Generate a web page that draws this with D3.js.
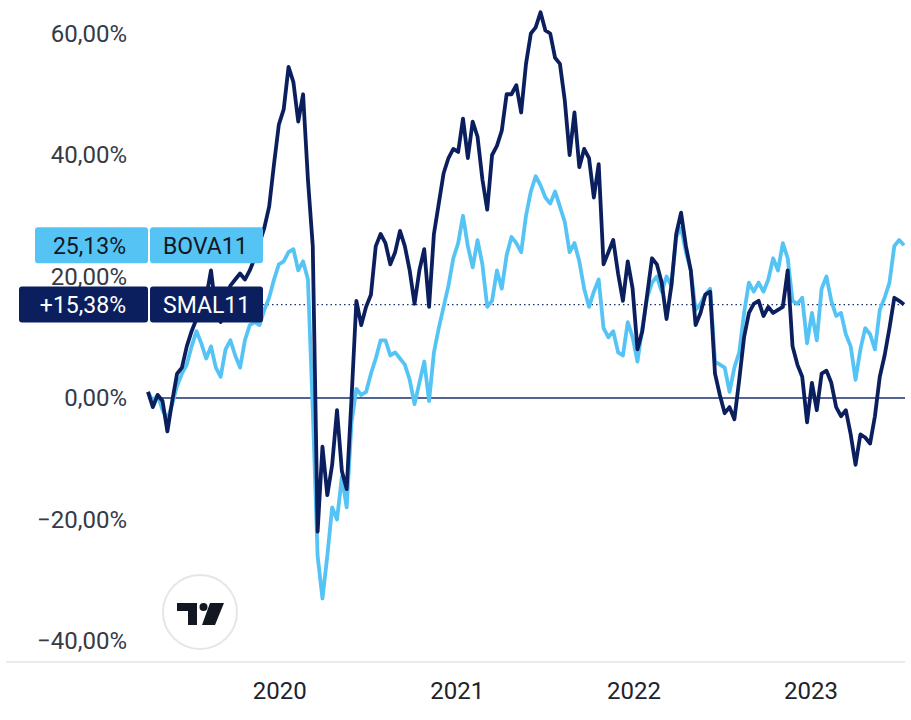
<!DOCTYPE html>
<html>
<head>
<meta charset="utf-8">
<script src="https://cdn.jsdelivr.net/npm/d3@7"></script>
<style>
  html, body { margin: 0; padding: 0; background: #ffffff; }
  svg { display: block; }
  text { font-family: Roboto, "Liberation Sans", Arial, sans-serif; }
</style>
</head>
<body>
<svg id="chart" width="911" height="720"></svg>
<script>
// ---- data ----
const startDate = "2019-04-05";   // first observation
const stepDays = 10;              // spacing between observations
const yTicks = [60, 40, 20, 0, -20, -40];
const yearTicks = ["2020-01-01", "2021-01-01", "2022-01-01", "2023-01-01"];
const yearLabels = ["2020", "2021", "2022", "2023"];
const seriesNames = ["BOVA11", "SMAL11"];
const lastValueLabels = ["25,13%", "+15,38%"];

// SMAL11 cumulative return (%)
const smal = [
  1.0, -1.5, 0.5, -0.5, -5.5, -0.5, 4.0, 5.0, 8.5, 11.0,
  13.0, 15.0, 16.5, 21.0, 14.5, 12.5, 16.0, 18.5, 19.5, 20.5,
  19.5, 21.0, 23.0, 25.5, 28.0, 31.5, 38.5, 45.0, 47.5, 54.5,
  52.0, 45.5, 50.0, 36.0, 25.0, -22.0, -8.0, -16.0, -11.0, -2.0,
  -12.0, -15.0, 0.0, 16.0, 12.0, 15.0, 17.0, 25.0, 27.0, 25.5,
  22.0, 24.0, 27.5, 25.0, 21.0, 15.5, 21.0, 24.5, 15.0, 27.0,
  32.0, 37.0, 39.5, 41.0, 40.5, 46.0, 39.5, 45.5, 43.0, 36.0,
  31.0, 40.0, 41.5, 44.0, 50.0, 50.0, 51.5, 47.0, 55.0, 60.0,
  61.0, 63.5, 60.5, 60.0, 56.0, 55.0, 49.0, 40.0, 47.0, 38.0,
  41.0, 39.5, 33.0, 38.5, 22.0, 24.0, 26.0, 20.5, 16.0, 22.5,
  18.0, 8.0, 11.0, 17.0, 23.0, 22.0, 19.0, 13.0, 18.5, 27.0,
  30.5, 25.0, 21.0, 12.0, 14.0, 17.0, 17.5, 4.0, 0.5, -2.5,
  -1.5, -3.5, 3.0, 10.0, 14.0, 15.5, 16.0, 13.5, 15.0, 14.0,
  14.5, 15.0, 21.0, 8.5, 5.5, 3.5, -4.0, 2.5, -2.0, 4.0,
  4.5, 2.5, -1.5, -3.0, -2.0, -6.0, -11.0, -6.0, -6.5, -7.5,
  -3.0, 3.5, 7.0, 11.5, 16.5, 16.0, 15.38
];

// BOVA11 cumulative return (%)
const bova = [
  1.0, -0.5, 0.5, -2.0, -3.5, -1.0, 2.0, 4.0, 5.5, 8.5,
  11.0, 9.0, 6.5, 8.5, 5.0, 3.5, 8.0, 9.5, 7.0, 5.0,
  9.5, 12.0, 12.5, 12.0, 14.5, 16.5, 19.5, 22.0, 22.5, 24.0,
  24.5, 21.0, 22.5, 19.5, -2.0, -26.0, -33.0, -26.0, -18.0, -20.0,
  -13.0, -18.0, -4.0, 1.5, 0.5, 1.0, 4.0, 6.5, 9.5, 9.5,
  7.0, 7.5, 6.5, 5.5, 3.0, -1.0, 2.5, 6.0, -0.5, 7.5,
  11.5, 15.0, 18.5, 23.0, 25.5, 30.0, 25.0, 21.5, 26.0, 22.0,
  15.0, 16.0, 21.0, 18.0, 23.5, 26.5, 25.5, 24.0, 30.0, 34.0,
  36.5, 35.0, 33.0, 32.0, 34.0, 31.5, 29.0, 24.0, 25.5, 22.5,
  18.0, 15.0, 17.5, 19.5, 11.5, 10.0, 11.0, 7.5, 7.0, 12.5,
  10.0, 6.0, 11.5, 16.5, 19.0, 20.0, 17.5, 20.0, 18.5, 26.5,
  28.0, 24.0, 21.0, 14.5, 15.5, 17.0, 18.0, 6.0, 5.5, 5.0,
  1.0, 5.0, 7.5, 14.0, 19.0, 17.5, 19.0, 17.5, 19.5, 23.0,
  21.0, 25.5, 23.0, 16.0, 15.5, 16.5, 9.0, 14.0, 9.5, 18.0,
  20.0, 16.0, 13.5, 14.0, 10.5, 8.5, 3.0, 8.0, 11.5, 10.5,
  8.0, 14.5, 16.5, 19.0, 25.0, 26.0, 25.13
];

// ---- build ----
const svg = d3.select("#chart");
const FONT = "Roboto, 'Liberation Sans', Arial, sans-serif";
const colors = { bova: "#55c4f5", smal: "#0b1f5e" };

const parse = d3.utcParse("%Y-%m-%d");
const t0 = parse(startDate);
const dates = smal.map((_, i) => d3.utcDay.offset(t0, i * stepDays));

const x = d3.scaleUtc()
  .domain([dates[0], dates[dates.length - 1]])
  .range([148, 904]);
const y = d3.scaleLinear().domain([-40, 60]).range([641, 33.5]);

// bottom axis baseline
svg.append("line")
  .attr("x1", 6).attr("x2", 905)
  .attr("y1", 662).attr("y2", 662)
  .attr("stroke", "#e3e5ec").attr("stroke-width", 1.5);

// y axis labels
const fmtPct = d => d3.format(".2f")(Math.abs(d)).replace(".", ",") + "%";
const yAxis = d3.axisLeft(y)
  .tickValues(yTicks)
  .tickSize(0)
  .tickPadding(0)
  .tickFormat(d => (d < 0 ? "\u2212" : "") + fmtPct(d));
const gy = svg.append("g").attr("transform", "translate(127,0)").call(yAxis);
gy.select(".domain").remove();
gy.selectAll("text")
  .attr("font-family", FONT)
  .attr("font-size", 24)
  .attr("fill", "#363a45");

// x axis labels
const xAxis = d3.axisBottom(x)
  .tickValues(yearTicks.map(parse))
  .tickSize(0)
  .tickPadding(0)
  .tickFormat((d, i) => yearLabels[i]);
const gx = svg.append("g").attr("transform", "translate(0,682)").call(xAxis);
gx.select(".domain").remove();
gx.selectAll("text")
  .attr("font-family", FONT)
  .attr("font-size", 24)
  .attr("fill", "#1e222d")
  .attr("dy", "0.71em");

// TradingView-like watermark
const logo = svg.append("g");
logo.append("circle").attr("cx", 200).attr("cy", 612).attr("r", 37)
  .attr("fill", "#ffffff").attr("stroke", "#e6e6e6").attr("stroke-width", 2);
logo.append("path").attr("d", "M177,603 H197 V625 H188 V611 H177 Z").attr("fill", "#131722");
logo.append("circle").attr("cx", 203.5).attr("cy", 607).attr("r", 4).attr("fill", "#131722");
logo.append("path").attr("d", "M210,603 H224 L215,625 H202 Z").attr("fill", "#131722");

// zero line
svg.append("line")
  .attr("x1", 148).attr("x2", 905)
  .attr("y1", y(0)).attr("y2", y(0))
  .attr("stroke", "#1c2f6e").attr("stroke-width", 1.3);

// last-value dotted line for SMAL11
svg.append("line")
  .attr("x1", 263).attr("x2", 905)
  .attr("y1", y(smal[smal.length - 1])).attr("y2", y(smal[smal.length - 1]))
  .attr("stroke", "#1c2f6e").attr("stroke-width", 1.2)
  .attr("stroke-dasharray", "1.5,3");

// series lines
const line = d3.line()
  .x((d, i) => x(dates[i]))
  .y(d => y(d));

svg.append("path").datum(bova)
  .attr("d", line)
  .attr("fill", "none")
  .attr("stroke", colors.bova)
  .attr("stroke-width", 3.8)
  .attr("stroke-linejoin", "round");

svg.append("path").datum(smal)
  .attr("d", line)
  .attr("fill", "none")
  .attr("stroke", colors.smal)
  .attr("stroke-width", 3.8)
  .attr("stroke-linejoin", "round");

// last-value labels
const labels = [
  { name: seriesNames[0], text: lastValueLabels[0], v: bova[bova.length - 1], fill: colors.bova, tc: "#131722", x0: 35 },
  { name: seriesNames[1], text: lastValueLabels[1], v: smal[smal.length - 1], fill: colors.smal, tc: "#ffffff", x0: 19 }
];
labels.forEach(l => {
  const cy = y(l.v);
  const g = svg.append("g");
  g.append("rect").attr("x", l.x0).attr("y", cy - 18).attr("width", 148 - l.x0).attr("height", 36)
    .attr("rx", 3).attr("fill", l.fill);
  g.append("rect").attr("x", 150).attr("y", cy - 18).attr("width", 113).attr("height", 36)
    .attr("rx", 3).attr("fill", l.fill);
  g.append("text").attr("x", 126).attr("y", cy).attr("dy", "0.36em")
    .attr("text-anchor", "end").attr("font-family", FONT).attr("font-size", 23)
    .attr("fill", l.tc).text(l.text);
  g.append("text").attr("x", 163).attr("y", cy).attr("dy", "0.36em")
    .attr("text-anchor", "start").attr("font-family", FONT).attr("font-size", 23)
    .attr("fill", l.tc).text(l.name);
});
</script>
</body>
</html>
